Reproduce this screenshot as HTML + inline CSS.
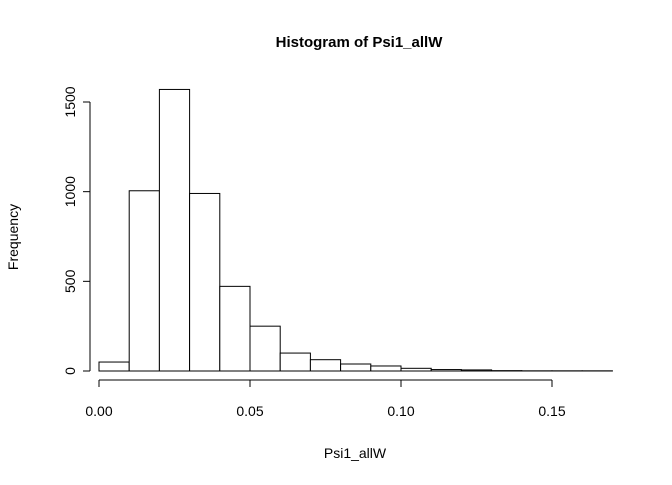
<!DOCTYPE html>
<html><head><meta charset="utf-8"><style>body{margin:0;background:#fff}svg text{font-family:"Liberation Sans",Arial,sans-serif;fill:#000}</style></head>
<body>
<svg id="chart" width="672" height="480">
<text x="359" y="47" style="font-size:15px;font-weight:bold" text-anchor="middle">Histogram of Psi1_allW</text>
<text x="355" y="458" style="font-size:14px" text-anchor="middle">Psi1_allW</text>
<text transform="translate(18,237) rotate(-90)" style="font-size:14px" text-anchor="middle">Frequency</text>
<g id="bars"></g><g id="xaxis"></g><g id="yaxis"></g>
</svg>
<script>
const binStarts=[0,0.01,0.02,0.03,0.04,0.05,0.06,0.07,0.08,0.09,0.10,0.11,0.12,0.13,0.14,0.15,0.16];
const counts=[50,1005,1570,990,472,250,100,63,39,28,15,8,6,2,1,1,1];
const binWidth=0.01;
const xTicks=[0,0.05,0.10,0.15];
const xTickLabels=["0.00","0.05","0.10","0.15"];
const yTicks=[0,500,1000,1500];
const ns="http://www.w3.org/2000/svg";
const X=v=>99+v*(552-99)/0.15;
const Y=v=>371-v*(371-102)/1500;
const bars=document.getElementById('bars');
binStarts.forEach((b,i)=>{
 const r=document.createElementNS(ns,'rect');
 r.setAttribute('x',X(b));r.setAttribute('width',X(b+binWidth)-X(b));
 r.setAttribute('y',Y(counts[i]));r.setAttribute('height',Y(0)-Y(counts[i]));
 r.setAttribute('fill','#fff');r.setAttribute('stroke','#000');r.setAttribute('stroke-width','1');
 
 
 bars.appendChild(r);
});
const xa=document.getElementById('xaxis');
function line(g,x1,y1,x2,y2){const l=document.createElementNS(ns,'line');l.setAttribute('x1',x1);l.setAttribute('y1',y1);l.setAttribute('x2',x2);l.setAttribute('y2',y2);l.setAttribute('stroke','#000');g.appendChild(l);return l;}
const xl=line(xa,X(0),380,X(0.15),380);


xTicks.forEach((t,i)=>{line(xa,X(t),380,X(t),387);
 const tx=document.createElementNS(ns,'text');tx.setAttribute('x',X(t));tx.setAttribute('y',416);tx.setAttribute('style','font-size:14px');tx.setAttribute('text-anchor','middle');tx.textContent=xTickLabels[i];
 
 
 xa.appendChild(tx);});
const ya=document.getElementById('yaxis');
const yl=line(ya,90,Y(0),90,Y(1500));


yTicks.forEach(t=>{line(ya,83,Y(t),90,Y(t));
 const tx=document.createElementNS(ns,'text');tx.setAttribute('transform','translate(75,'+Y(t)+') rotate(-90)');tx.setAttribute('style','font-size:14px');tx.setAttribute('text-anchor','middle');tx.textContent=t;
 
 
 ya.appendChild(tx);});
</script>
</body></html>
